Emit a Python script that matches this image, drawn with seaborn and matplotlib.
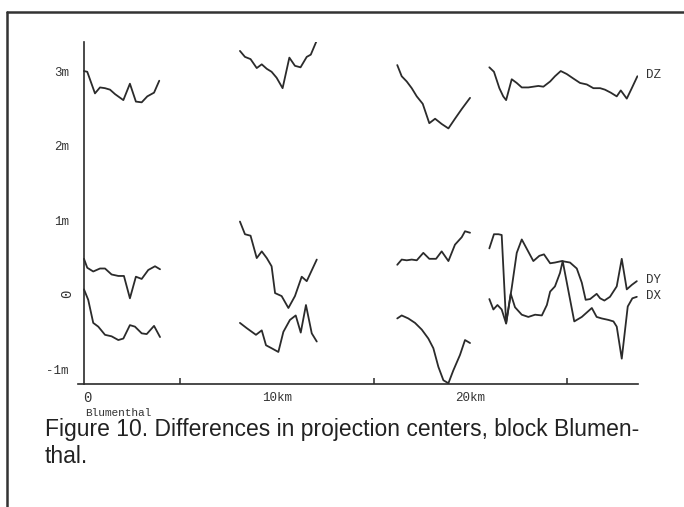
import matplotlib
matplotlib.use("Agg")
import matplotlib.pyplot as plt
import pandas as pd
import seaborn as sns
from matplotlib.lines import Line2D
from matplotlib.transforms import ScaledTranslation

# ---- flight strips: distance along block (km) and difference (m) ----
# strip 1
dz1_km = [0.0, 0.17, 0.57, 0.83, 1.09, 1.35, 1.61, 2.04, 2.38, 2.69, 2.99, 3.28, 3.63, 3.90]
dz1_m = [3.11, 3.10, 2.81, 2.89, 2.88, 2.86, 2.80, 2.72, 2.94, 2.70, 2.69, 2.77, 2.82, 2.98]
dy1_km = [0.0, 0.17, 0.48, 0.83, 1.09, 1.43, 1.78, 2.07, 2.38, 2.69, 2.99, 3.33, 3.68, 3.94]
dy1_m = [0.59, 0.47, 0.42, 0.46, 0.46, 0.38, 0.36, 0.36, 0.06, 0.35, 0.32, 0.44, 0.49, 0.45]
dx1_km = [0.0, 0.22, 0.48, 0.74, 1.09, 1.43, 1.78, 2.04, 2.38, 2.64, 2.99, 3.25, 3.63, 3.94]
dx1_m = [0.18, 0.04, -0.27, -0.32, -0.43, -0.45, -0.50, -0.48, -0.30, -0.32, -0.41, -0.42, -0.31, -0.46]

# strip 2
dz2_km = [8.08, 8.34, 8.63, 8.95, 9.21, 9.47, 9.72, 9.98, 10.29, 10.64, 10.93, 11.22, 11.54, 11.75, 12.06]
dz2_m = [3.38, 3.30, 3.27, 3.15, 3.20, 3.14, 3.10, 3.02, 2.88, 3.29, 3.18, 3.16, 3.30, 3.33, 3.52]
dy2_km = [8.08, 8.34, 8.63, 8.95, 9.21, 9.47, 9.72, 9.90, 10.24, 10.59, 10.93, 11.28, 11.54, 12.06]
dy2_m = [1.09, 0.92, 0.90, 0.60, 0.69, 0.60, 0.49, 0.13, 0.09, -0.07, 0.09, 0.35, 0.29, 0.58]
dx2_km = [8.08, 8.43, 8.91, 9.21, 9.43, 9.72, 10.07, 10.33, 10.67, 10.97, 11.23, 11.50, 11.80, 12.06]
dx2_m = [-0.27, -0.34, -0.43, -0.37, -0.57, -0.61, -0.66, -0.39, -0.23, -0.17, -0.40, -0.03, -0.41, -0.52]

# strip 3
dz3_km = [16.23, 16.46, 16.72, 16.98, 17.24, 17.55, 17.89, 18.19, 18.53, 18.88, 19.22, 19.57, 20.0]
dz3_m = [3.19, 3.04, 2.97, 2.88, 2.77, 2.67, 2.41, 2.47, 2.40, 2.34, 2.47, 2.60, 2.75]
dy3_km = [16.23, 16.46, 16.72, 16.98, 17.24, 17.58, 17.89, 18.24, 18.53, 18.88, 19.22, 19.57, 19.74, 20.0]
dy3_m = [0.51, 0.58, 0.57, 0.58, 0.57, 0.67, 0.59, 0.59, 0.69, 0.56, 0.78, 0.88, 0.96, 0.94]
dx3_km = [16.23, 16.46, 16.80, 17.15, 17.50, 17.84, 18.10, 18.36, 18.62, 18.88, 19.13, 19.48, 19.74, 20.0]
dx3_m = [-0.21, -0.17, -0.21, -0.27, -0.36, -0.48, -0.61, -0.86, -1.04, -1.08, -0.91, -0.70, -0.50, -0.54]

# strip 4
dz4_km = [21.0, 21.24, 21.52, 21.72, 21.87, 22.16, 22.42, 22.68, 23.02, 23.28, 23.54, 23.8, 24.15, 24.40,
          24.70, 25.01, 25.35, 25.70, 26.05, 26.39, 26.74, 26.99, 27.29, 27.6, 27.81, 28.12, 28.38, 28.67]
dz4_m = [3.16, 3.10, 2.88, 2.77, 2.72, 3.00, 2.95, 2.89, 2.89, 2.90, 2.91, 2.90, 2.97, 3.04,
         3.11, 3.07, 3.01, 2.95, 2.93, 2.88, 2.88, 2.86, 2.82, 2.77, 2.85, 2.74, 2.88, 3.04]
dy4_km = [21.0, 21.24, 21.47, 21.64, 21.87, 22.16, 22.42, 22.68, 22.97, 23.28, 23.59, 23.83, 24.15, 24.40,
          24.75, 25.18, 25.53, 25.79, 25.99, 26.22, 26.56, 26.74, 26.96, 27.25, 27.60, 27.86, 28.12, 28.38, 28.64]
dy4_m = [0.73, 0.92, 0.92, 0.91, -0.27, 0.20, 0.67, 0.85, 0.71, 0.56, 0.63, 0.65, 0.53, 0.54,
         0.56, 0.54, 0.46, 0.27, 0.04, 0.05, 0.12, 0.06, 0.03, 0.08, 0.22, 0.59, 0.18, 0.24, 0.29]
dx4_km = [21.0, 21.21, 21.42, 21.64, 21.87, 22.11, 22.33, 22.68, 23.02, 23.37, 23.72, 23.98, 24.15, 24.40,
          24.66, 24.80, 25.40, 25.79, 26.31, 26.56, 26.82, 27.17, 27.43, 27.60, 27.86, 28.17, 28.41, 28.64]
dx4_m = [0.05, -0.09, -0.03, -0.09, -0.28, 0.12, -0.06, -0.16, -0.19, -0.16, -0.17, -0.03, 0.15, 0.22,
         0.40, 0.56, -0.25, -0.19, -0.07, -0.19, -0.21, -0.23, -0.25, -0.32, -0.75, -0.05, 0.06, 0.08]

y_ticks = [-1, 0, 1, 2, 3, 3.5]
y_tick_labels = ["-1m", "0", "1m", "2m", "3m", ""]
x_ticks = [0, 10, 20, 28.7]
x_tick_labels = ["0", "10km", "20km", ""]
x_minor_ticks = [5, 15, 25]
series_names = ["DZ", "DY", "DX"]
origin_name = "Blumenthal"
caption = "Figure 10. Differences in projection centers, block Blumen-\nthal."

strips = {
    "DZ": [(dz1_km, dz1_m), (dz2_km, dz2_m), (dz3_km, dz3_m), (dz4_km, dz4_m)],
    "DY": [(dy1_km, dy1_m), (dy2_km, dy2_m), (dy3_km, dy3_m), (dy4_km, dy4_m)],
    "DX": [(dx1_km, dx1_m), (dx2_km, dx2_m), (dx3_km, dx3_m), (dx4_km, dx4_m)],
}

rows = []
for name in series_names:
    for i, (km, m) in enumerate(strips[name], start=1):
        for k, v in zip(km, m):
            rows.append({"km": k, "m": v, "series": name, "line": f"{name}-{i}"})
df = pd.DataFrame(rows)

ink = "#2b2b2b"
mono = ["Liberation Mono", "DejaVu Sans Mono"]

sns.set_theme(style="white")
plt.rcParams["font.family"] = mono

fig = plt.figure(figsize=(6.84, 5.07), dpi=100)
fig.patch.set_facecolor("white")
ax = fig.add_axes([0.1143, 0.2426, 0.8184, 0.6746])
ax.set_facecolor("white")

sns.lineplot(data=df, x="km", y="m", units="line", estimator=None, sort=False,
             color=ink, linewidth=1.3, ax=ax, legend=False)

ax.set_xlim(-0.3, 28.7)
ax.set_ylim(-1.09, 3.5)
ax.set_xlabel("")
ax.set_ylabel("")

for side in ("top", "right"):
    ax.spines[side].set_visible(False)
ax.spines["left"].set_position(("data", 0))
for side in ("left", "bottom"):
    ax.spines[side].set_color(ink)
    ax.spines[side].set_linewidth(1.2)

ax.set_yticks(y_ticks)
ax.set_yticklabels(y_tick_labels, fontsize=9, color="#333333")
ax.tick_params(axis="y", direction="out", length=4, width=1.1, color=ink, pad=7)
for lab in ax.get_yticklabels():
    dx = 0.0
    if lab.get_text() == "0":
        lab.set_rotation(90)
        lab.set_fontsize(10)
        dx = 0.05
    lab.set_transform(lab.get_transform() + ScaledTranslation(dx, 0.08, fig.dpi_scale_trans))

ax.set_xticks(x_ticks)
ax.set_xticklabels(x_tick_labels, fontsize=9, color="#333333")
ax.set_xticks(x_minor_ticks, minor=True)
ax.tick_params(axis="x", which="major", direction="out", length=6, width=1.1, color=ink, pad=0)
ax.tick_params(axis="x", which="minor", direction="in", length=4, width=1.1, color=ink, bottom=True)
zero_lab = ax.get_xticklabels()[0]
zero_lab.set_fontsize(10)
zero_lab.set_transform(zero_lab.get_transform() + ScaledTranslation(0.03, 0.01, fig.dpi_scale_trans))

# series names at the end of the last strip
for name in series_names:
    km, m = strips[name][-1]
    ax.annotate(name, xy=(km[-1], m[-1]), xytext=(9, 1), textcoords="offset pixels",
                ha="left", va="center", fontsize=9, color="#333333")

ax.annotate(origin_name, xy=(0, -1.09), xytext=(1, -29), textcoords="offset pixels",
            ha="left", va="center", fontsize=8, color="#333333", annotation_clip=False)

fig.text(45 / 684, 1 - 443 / 507, caption, ha="left", va="center", fontsize=16.5,
         family=["Liberation Sans", "DejaVu Sans"], color="#222222", linespacing=1.25)

# page frame
fig.add_artist(Line2D([7 / 684, 1.0], [1 - 12 / 507, 1 - 12 / 507], transform=fig.transFigure,
                      color="#333333", linewidth=1.8))
fig.add_artist(Line2D([7 / 684, 7 / 684], [0.0, 1 - 12 / 507], transform=fig.transFigure,
                      color="#333333", linewidth=1.8))

fig.savefig("out.png", dpi=100, facecolor="white")
